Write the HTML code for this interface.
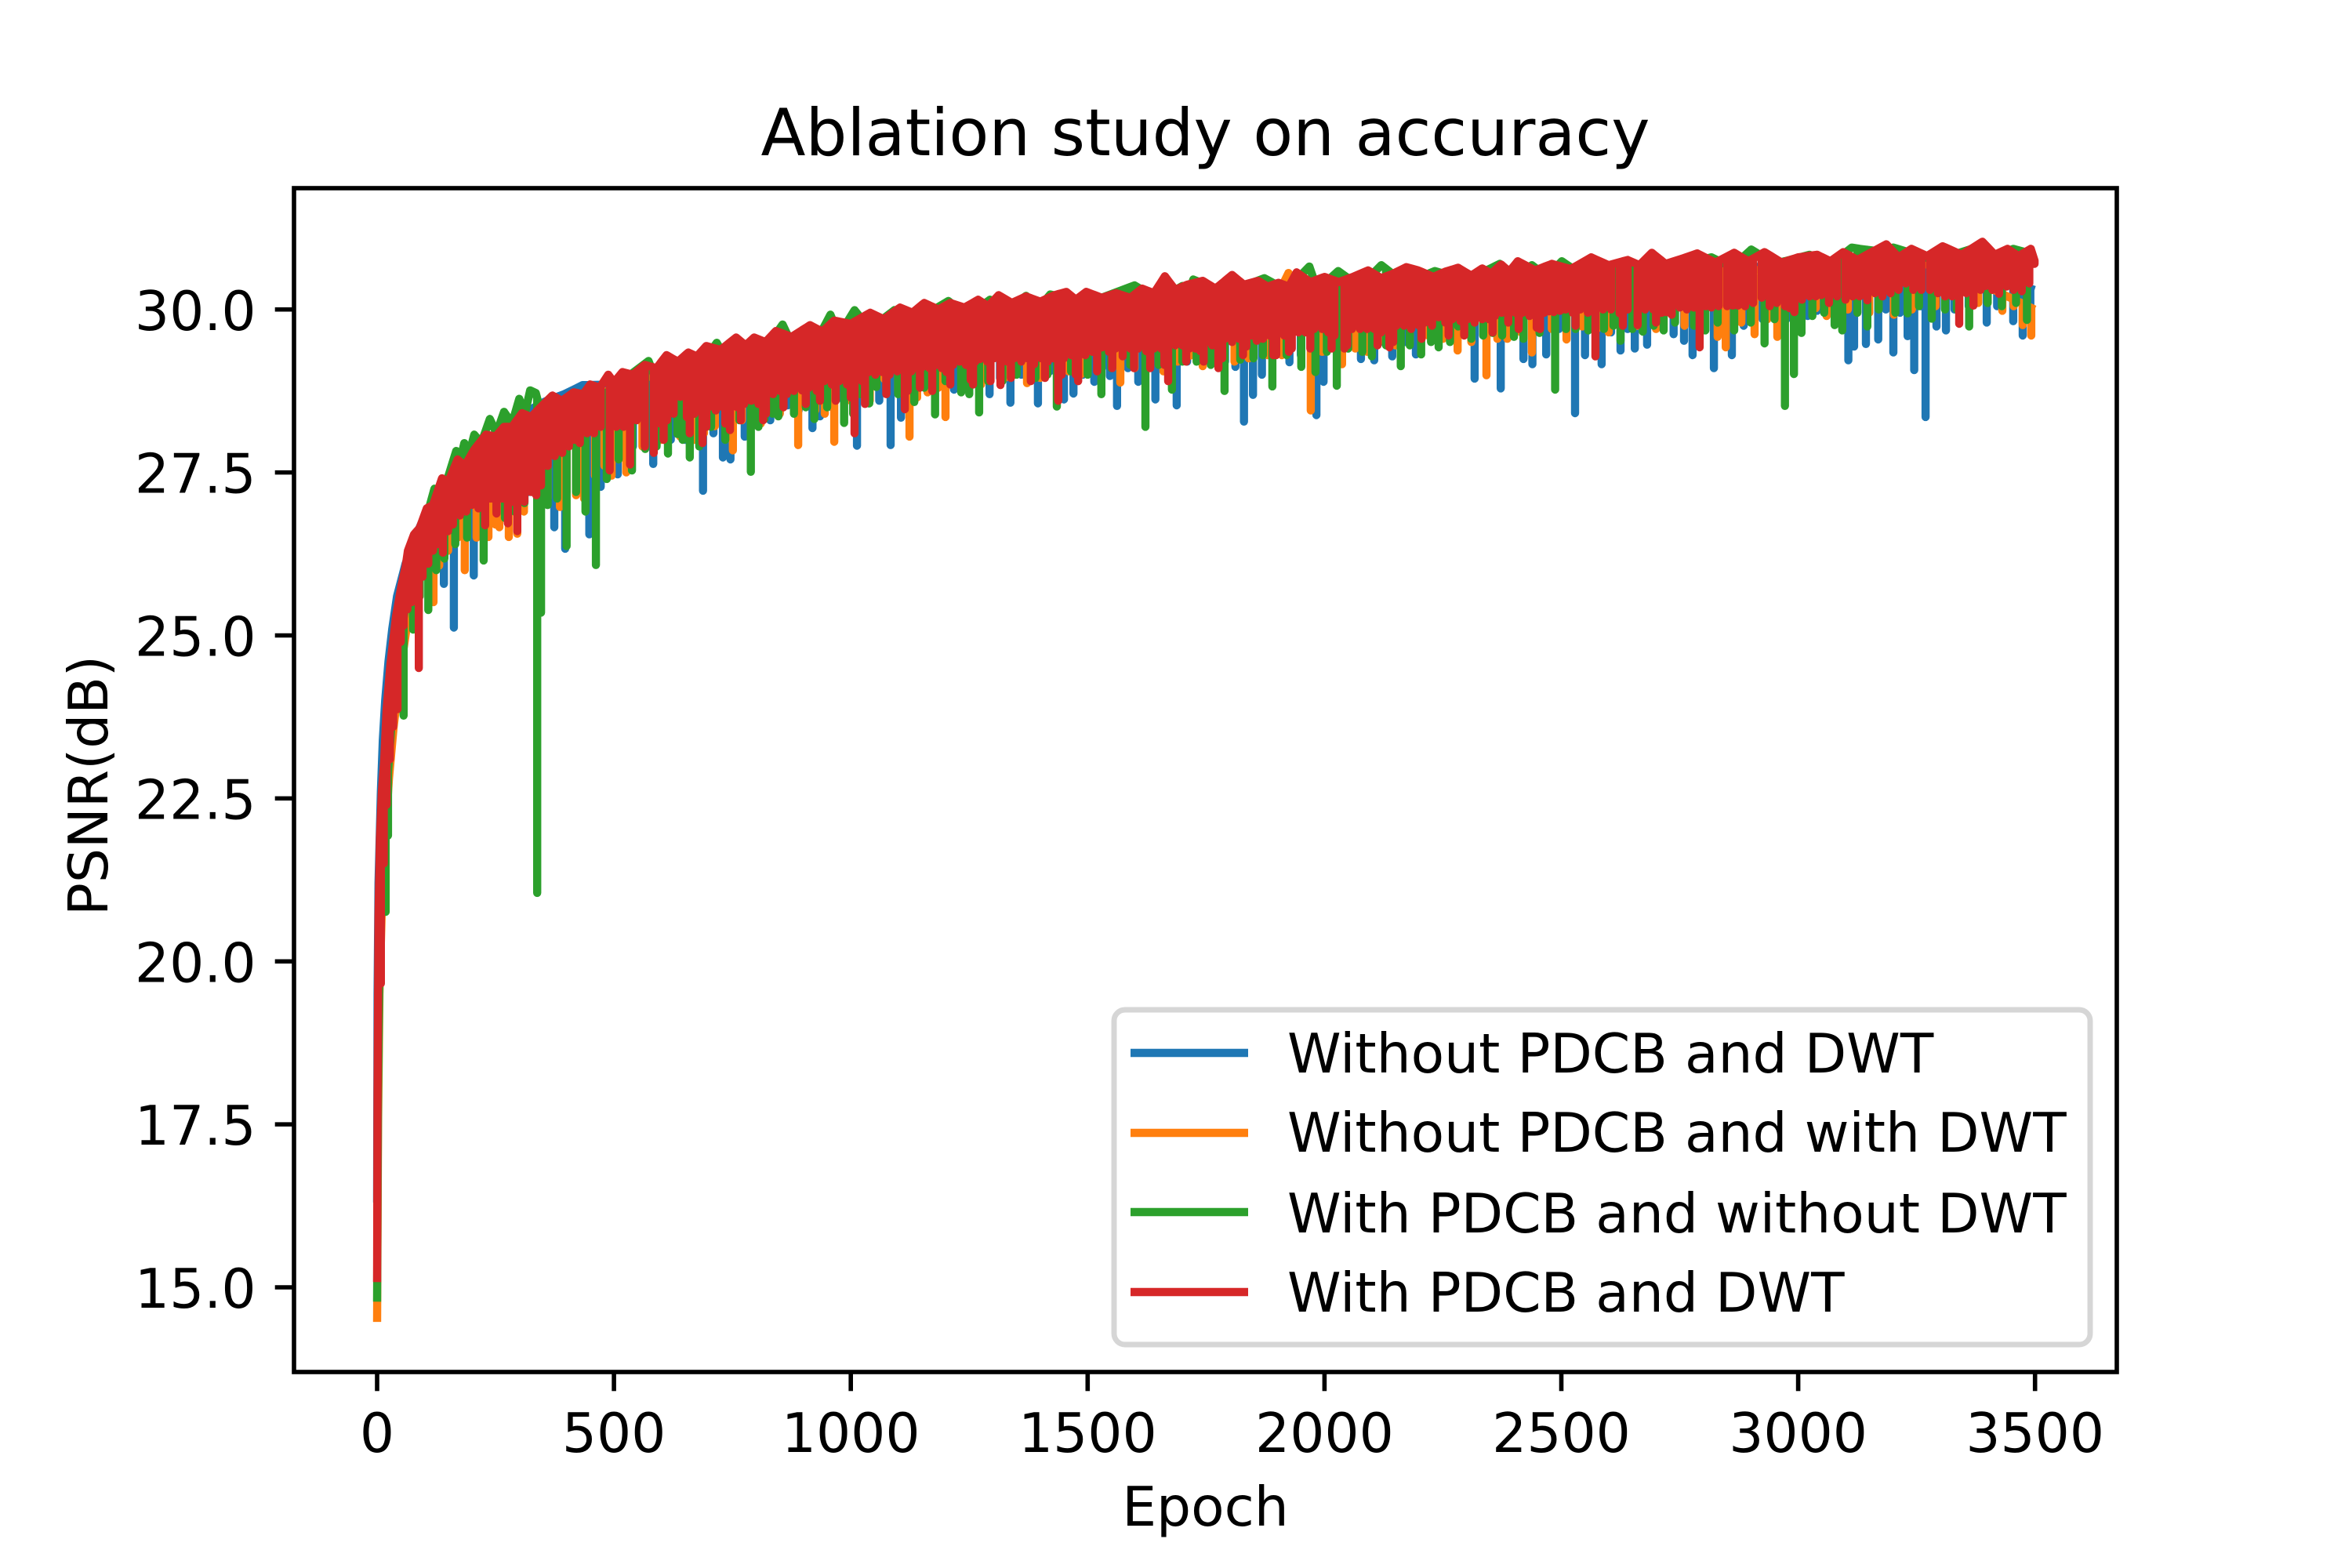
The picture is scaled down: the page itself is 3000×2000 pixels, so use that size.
<!DOCTYPE html>
<html lang="en">
<head>
<meta charset="utf-8">
<title>Ablation study on accuracy</title>
<style>
html,body{margin:0;padding:0;background:#fff;}
svg{display:block;}
text{font-family:"DejaVu Sans","Liberation Sans",sans-serif;fill:#000;}
</style>
</head>
<body>
<svg id="chart" xmlns="http://www.w3.org/2000/svg" width="3000" height="2000" viewBox="0 0 3000 2000">
  <rect x="0" y="0" width="3000" height="2000" fill="#ffffff"/>
  <g id="series-layer"></g>
  <g id="tick-layer"></g>
  <rect x="375" y="240" width="2325" height="1510" fill="none" stroke="#000" stroke-width="5.6"/>
  <text x="1537.5" y="198" font-size="83.33" text-anchor="middle">Ablation study on accuracy</text>
  <text x="1537.5" y="1946" font-size="69.44" text-anchor="middle">Epoch</text>
  <text transform="translate(137,1002) rotate(-90)" font-size="69.44" text-anchor="middle">PSNR(dB)</text>
  <g>
    <rect x="1421" y="1288" width="1245" height="427" rx="14" ry="14" fill="#ffffff" fill-opacity="0.8" stroke="#d6d6d6" stroke-width="6.9"/>
    <g>
      <line x1="1442" x2="1592" y1="1343" y2="1343" stroke="#1f77b4" stroke-width="10.4"/>
      <text x="1642" y="1368" font-size="69.44">Without PDCB and DWT</text>
    </g>
    <g>
      <line x1="1442" x2="1592" y1="1445" y2="1445" stroke="#ff7f0e" stroke-width="10.4"/>
      <text x="1642" y="1469" font-size="69.44">Without PDCB and with DWT</text>
    </g>
    <g>
      <line x1="1442" x2="1592" y1="1546" y2="1546" stroke="#2ca02c" stroke-width="10.4"/>
      <text x="1642" y="1572" font-size="69.44">With PDCB and without DWT</text>
    </g>
    <g>
      <line x1="1442" x2="1592" y1="1648" y2="1648" stroke="#d62728" stroke-width="10.4"/>
      <text x="1642" y="1673" font-size="69.44">With PDCB and DWT</text>
    </g>
  </g>
</svg>
<script>
const xTickValues = [0, 500, 1000, 1500, 2000, 2500, 3000, 3500];
const xTickLabels = ["0", "500", "1000", "1500", "2000", "2500", "3000", "3500"];
const yTickValues = [15, 17.5, 20, 22.5, 25, 27.5, 30];
const yTickLabels = ["15.0", "17.5", "20.0", "22.5", "25.0", "27.5", "30.0"];

const blueCrestEpochs = [0,1,3,8,12,17,24,32,42,60,80,105,140,175,230,300,341,361,395,434,520,700,1000,1300,1700,2100,2500,2900,3300,3499];
const blueCrestPsnr = [16.3,19.5,21.2,22.6,23.4,24.0,24.6,25.1,25.6,26.1,26.5,26.9,27.3,27.65,28.0,28.35,28.54,28.61,28.7,28.84,28.85,29.2,29.7,30.0,30.2,30.4,30.55,30.65,30.75,30.3];
const blueDipEpochs = [141,162,204,374,397,448,472,508,583,688,730,746,776,830,867,919,935,1013,1038,1084,1106,1218,1293,1337,1395,1450,1470,1514,1547,1562,1607,1643,1688,1812,1830,1849,1868,1926,1983,1998,2077,2105,2143,2193,2317,2372,2420,2439,2468,2529,2550,2585,2625,2655,2681,2737,2759,2777,2822,2860,3040,3106,3118,3143,3169,3201,3231,3245,3269,3292,3312,3398,3454,3474,
180,230,260,290,320,420,490,540,620,650,710,800,850,890,960,985,1060,1140,1170,1250,1315,1360,1420,1490,1530,1585,1630,1665,1710,1760,1790,1900,1950,2020,2050,2125,2170,2230,2270,2345,2395,2455,2495,2570,2605,2640,2710,2790,2840,2885,2925,2975,3020,3070,3090,3185,3215,3258,3330,3360,3420,3490];
const blueDipPsnr = [25.79,25.12,25.92,26.66,26.33,26.55,27.28,27.47,27.63,27.22,27.73,27.70,28.05,28.30,28.53,28.18,28.36,27.91,28.56,27.92,28.34,28.77,28.70,28.57,28.56,28.62,28.71,28.89,28.98,28.52,28.89,28.62,28.53,29.12,28.28,28.69,29.00,29.19,28.38,28.89,29.24,29.22,29.28,29.31,28.94,28.79,29.24,29.16,29.31,28.41,29.30,29.16,29.37,29.40,29.46,29.62,29.52,29.30,29.10,29.30,29.98,29.22,29.43,29.47,29.54,29.34,29.59,29.07,28.35,29.74,29.68,29.80,29.82,29.60,
26.6,26.85,26.9,27.1,27.2,27.3,27.7,27.9,28.0,28.0,28.1,28.3,28.4,28.45,28.5,28.6,28.6,28.7,28.8,28.95,28.95,29.0,29.05,29.0,29.1,29.1,29.15,29.1,29.2,29.25,29.2,29.35,29.3,29.4,29.4,29.5,29.5,29.55,29.55,29.65,29.6,29.65,29.7,29.7,29.65,29.7,29.75,29.75,29.8,29.75,29.85,29.85,29.9,29.95,29.9,30.0,29.95,30.05,30.0,30.05,30.05,30.0];

const orangeCrestEpochs = [0,2,5,10,16,25,35,50,70,100,130,165,230,300,400,520,700,1000,1300,1640,1900,1924,1945,2100,2500,2900,3300,3499];
const orangeCrestPsnr = [14.47,17.5,19.5,20.8,21.8,22.8,23.6,24.5,25.5,26.6,27.1,27.5,27.95,28.25,28.5,28.85,29.25,29.75,30.0,30.2,30.2,30.56,30.25,30.35,30.5,30.6,30.7,30.0];
const orangeDipEpochs = [119,131,185,235,258,278,296,386,420,437,495,526,713,751,889,965,1071,1124,1162,1200,1372,1569,1599,1716,1743,1763,1971,2037,2118,2219,2281,2342,2386,2438,2511,2544,2830,2847,2908,2956,3037,3202,3431,3474,3492,
150,170,210,250,310,340,360,400,460,480,560,600,640,670,690,770,810,850,925,945,1000,1040,1100,1140,1185,1240,1275,1325,1345,1400,1460,1485,1525,1625,1660,1690,1780,1810,1840,1880,1910,1995,2065,2090,2150,2180,2250,2310,2365,2415,2480,2575,2600,2660,2700,2760,2800,2880,2935,3000,3060,3105,3150,3240,3290,3340,3380,3455];
const orangeDipPsnr = [25.51,26.07,26.0,26.51,26.66,26.51,26.56,26.97,27.15,27.10,27.45,27.50,28.21,27.84,27.92,27.97,28.93,28.05,28.73,28.35,28.87,28.88,29.10,29.29,29.13,29.36,28.45,29.16,29.52,29.60,29.37,28.99,29.55,29.34,29.54,29.74,29.58,29.42,29.62,29.58,30.02,29.92,29.98,29.76,29.60,
26.3,26.5,26.5,26.7,26.9,27.0,27.1,27.2,27.45,27.6,27.9,28.0,28.05,28.0,28.1,28.3,28.25,28.4,28.45,28.4,28.6,28.6,28.75,28.65,28.8,28.9,28.85,28.95,29.0,28.95,29.05,29.0,29.1,29.1,29.05,29.2,29.25,29.2,29.25,29.3,29.3,29.35,29.4,29.35,29.45,29.5,29.55,29.5,29.55,29.65,29.7,29.7,29.65,29.75,29.7,29.75,29.8,29.8,29.85,29.9,29.9,30.0,29.95,30.0,30.05,30.0,30.1,30.05];

const greenCrestEpochs = [0,2,6,12,20,30,45,60,80,100,121,140,167,176,184,195,205,220,238,252,268,285,300,312,323,335,350,400,480,573,590,680,717,740,820,856,880,930,957,975,1008,1040,1092,1130,1206,1245,1294,1330,1370,1395,1421,1500,1599,1650,1700,1712,1723,1790,1873,1920,1968,1985,2029,2075,2120,2170,2233,2300,2370,2405,2438,2470,2501,2540,2577,2700,2817,2860,2901,2950,3024,3070,3113,3130,3163,3180,3201,3290,3366,3410,3454,3499];
const greenCrestPsnr = [14.78,18,20.5,21.6,22.6,23.6,24.6,25.5,26.2,26.7,27.25,27.2,27.83,27.7,27.95,27.8,28.08,27.95,28.32,28.1,28.43,28.25,28.63,28.4,28.76,28.72,28.3,28.5,28.7,29.21,28.9,29.1,29.49,29.2,29.4,29.77,29.4,29.55,29.92,29.6,29.99,29.7,29.99,29.8,30.13,29.9,30.15,30.0,30.21,30.0,30.23,30.1,30.37,30.15,30.36,30.2,30.46,30.25,30.48,30.3,30.66,30.3,30.59,30.35,30.68,30.4,30.59,30.45,30.7,30.5,30.68,30.5,30.74,30.55,30.65,30.6,30.8,30.65,30.92,30.7,30.84,30.7,30.95,30.93,30.9,30.75,30.95,30.75,30.93,30.8,30.93,30.84];
const greenDipEpochs = [18,23,56,76,108,142,225,252,311,338,346,400,462,538,566,614,634,660,789,818,847,923,986,1039,1054,1134,1178,1233,1271,1435,1529,1622,1678,1789,1822,1890,1951,1981,2026,2100,2161,2204,2241,2282,2355,2400,2454,2487,2557,2625,2672,2716,2804,2865,2929,2972,2991,3007,3077,3093,3146,3231,3282,3361,3483,
36,90,125,165,190,270,290,360,380,420,440,485,510,590,645,680,705,735,765,805,835,880,905,950,1005,1020,1075,1100,1155,1200,1250,1290,1320,1350,1390,1415,1465,1500,1550,1590,1650,1700,1730,1760,1850,1870,1920,2005,2050,2080,2130,2180,2225,2265,2310,2335,2375,2420,2510,2530,2590,2610,2650,2695,2740,2780,2830,2900,2950,3030,3055,3125,3170,3205,3255,3310,3335,3400,3430,3460];
const greenDipPsnr = [20.76,21.93,23.77,25.09,25.39,26.18,26.15,26.90,27.03,21.05,25.35,26.37,26.08,27.53,27.86,27.79,28.09,27.73,27.51,28.32,28.36,28.32,28.26,28.56,28.81,28.58,28.39,28.73,28.42,28.51,28.70,28.20,28.77,28.75,29.23,28.82,29.12,29.04,28.83,29.28,29.13,29.31,29.42,29.74,29.64,29.58,29.64,28.77,29.68,29.52,29.66,29.68,29.68,29.68,29.48,28.52,29.01,29.64,29.76,29.68,29.74,29.94,29.86,29.74,29.84,
23.9,25.6,26.0,26.4,26.5,26.8,26.9,27.0,27.1,27.2,26.9,27.4,27.7,27.9,28.0,27.9,28.2,28.0,28.3,28.2,28.4,28.4,28.5,28.5,28.4,28.7,28.8,28.7,28.8,28.9,28.7,28.9,28.9,29.0,28.95,29.0,29.05,29.0,29.1,29.15,29.15,29.2,29.2,29.15,29.25,29.3,29.3,29.35,29.4,29.35,29.45,29.45,29.5,29.5,29.55,29.6,29.6,29.55,29.7,29.7,29.7,29.75,29.7,29.75,29.8,29.75,29.8,29.8,29.85,29.9,29.95,29.95,30.0,29.95,30.05,30.0,30.0,30.1,30.05,30.1];

const redCrestEpochs = [0,1,3,6,10,15,20,28,40,51,60,65,78,90,105,118,137,150,170,185,205,230,250,268,285,306,325,345,370,390,415,435,450,470,488,500,518,540,565,590,611,635,657,675,695,725,758,778,796,820,842,875,914,940,965,1000,1041,1070,1104,1130,1155,1185,1210,1240,1269,1290,1312,1340,1370,1400,1430,1455,1475,1497,1530,1560,1590,1615,1640,1663,1685,1710,1743,1770,1805,1830,1860,1880,1903,1925,1941,1970,2000,2030,2060,2092,2120,2145,2173,2198,2230,2255,2282,2310,2333,2352,2373,2390,2408,2445,2480,2520,2563,2600,2640,2665,2691,2720,2755,2787,2825,2865,2895,2929,2965,3000,3040,3068,3095,3125,3150,3186,3212,3239,3272,3305,3345,3389,3415,3442,3465,3491,3499];
const redCrestPsnr = [15.08,18,20.7,21.9,22.6,23.1,23.87,24.55,25.3,25.75,26.05,26.3,26.55,26.65,26.95,27.0,27.41,27.35,27.7,27.6,27.85,28.08,28.05,28.2,28.2,28.41,28.35,28.5,28.68,28.6,28.73,28.7,28.85,28.8,29.0,28.88,29.04,29.0,29.15,29.1,29.3,29.2,29.34,29.28,29.44,29.38,29.57,29.45,29.57,29.5,29.67,29.58,29.76,29.66,29.83,29.78,29.95,29.85,30.03,29.95,30.1,30.0,30.1,30.03,30.15,30.05,30.22,30.1,30.2,30.12,30.22,30.27,30.15,30.27,30.18,30.25,30.18,30.32,30.25,30.51,30.3,30.38,30.44,30.32,30.53,30.38,30.44,30.35,30.41,30.35,30.57,30.42,30.5,30.42,30.5,30.6,30.48,30.55,30.65,30.6,30.5,30.58,30.64,30.52,30.63,30.55,30.69,30.58,30.74,30.6,30.7,30.62,30.8,30.68,30.76,30.68,30.87,30.7,30.78,30.86,30.72,30.87,30.74,30.88,30.72,30.8,30.84,30.74,30.88,30.76,30.86,31.0,30.8,30.93,30.82,30.97,30.84,31.04,30.84,30.93,30.82,30.93,30.75];
const redDipEpochs = [8,14,20,27,34,43,50,56,64,73,80,88,96,108,118,128,139,150,160,175,188,200,214,228,240,252,264,276,286,296,311,325,336,346,360,375,391,405,417,428,443,458,472,491,505,520,534,548,562,584,598,612,626,640,654,670,687,700,715,730,745,760,775,790,805,821,836,850,865,880,897,912,928,944,960,976,992,1008,1024,1038,1052,1066,1082,1098,1114,1128,1140,1152,1166,1180,1192,1202,1216,1230,1243,1253,1263,1273,1288,1302,1316,1330,1345,1360,1373,1387,1402,1416,1428,1438,1450,1465,1480,1495,1510,1531,1545,1559,1574,1590,1607,1624,1640,1655,1670,1685,1700,1715,1727,1738,1750,1763,1776,1790,1805,1820,1835,1847,1857,1870,1884,1898,1915,1931,1945,1960,1978,1995,2008,2021,2042,2058,2075,2090,2105,2120,2137,2152,2168,2183,2198,2212,2227,2241,2255,2270,2287,2302,2317,2333,2347,2360,2374,2388,2403,2418,2433,2448,2464,2474,2484,2497,2509,2524,2540,2556,2572,2588,2605,2623,2640,2661,2677,2694,2712,2722,2733,2750,2765,2780,2792,2805,2817,2832,2850,2862,2873,2888,2905,2923,2940,2955,2972,2982,2992,3008,3024,3037,3049,3065,3082,3100,3115,3130,3146,3162,3178,3195,3212,3227,3243,3260,3278,3295,3310,3325,3340,3355,3370,3385,3396,3410,3424,3440,3455,3472,3488,3499,
565,605,660,695,735,768,815,858,905,935,968,1000,1030,1075,1120,1146,1172,1210,1258,1295,1338,1380,1410,1445,1475,1520,1552,1598,1632,1662,1708,1745,1784,1828,1892,1925,1970,2015,2048,2112,2145,2205,2262,2295,2355,2410,2455,2530,2630,2700];
const redDipPsnr = [19.66,21.5,22.4,23.1,23.6,23.87,24.9,25.15,25.4,25.51,25.7,24.5,25.9,26.1,26.3,26.4,26.27,26.6,26.7,26.84,26.9,27.0,26.95,26.69,27.1,26.87,27.1,26.72,27.05,26.6,27.05,27.2,27.15,27.3,27.6,27.75,27.8,27.9,28.0,27.95,28.1,28.1,28.2,27.53,28.2,28.2,27.62,28.3,28.35,27.8,28.25,28.3,28.4,28.66,28.35,28.4,27.95,28.5,28.45,28.5,28.15,28.5,28.55,28.6,28.55,28.4,28.7,28.75,28.7,28.75,28.76,28.8,28.75,28.9,28.85,28.9,28.85,28.1,28.9,29.04,29.0,29.04,29.0,29.05,28.47,29.05,29.1,29.12,29.1,29.15,29.1,29.04,29.15,29.2,29.15,28.92,29.2,29.24,29.2,29.25,28.84,29.2,29.25,29.2,29.25,29.16,29.25,29.2,29.25,28.6,29.25,29.3,28.9,29.3,29.35,29.42,29.35,29.4,29.28,29.4,29.4,29.36,29.4,29.4,28.9,29.45,29.45,29.4,29.4,29.36,29.5,29.45,29.1,29.55,29.5,29.55,29.43,29.6,29.52,29.55,29.6,29.3,29.6,29.4,29.65,29.65,29.7,29.7,29.65,29.6,29.4,29.7,29.7,29.7,29.7,29.65,29.42,29.75,29.75,29.7,29.76,29.8,29.75,29.88,29.8,29.85,29.82,29.85,29.8,29.85,29.85,29.9,29.95,29.8,29.95,29.95,29.9,29.72,29.95,29.97,29.96,29.98,30.0,29.95,30.0,29.95,29.28,30.0,30.0,29.94,30.0,29.76,30.0,30.0,29.95,29.96,29.92,30.03,30.0,30.03,29.42,30.05,30.03,30.05,30.05,30.06,30.06,30.05,30.1,30.18,30.05,30.1,30.05,30.02,29.96,30.15,30.2,30.2,30.22,30.1,30.2,30.15,30.2,30.2,30.14,30.25,30.2,30.25,30.3,30.4,30.3,30.3,30.3,30.25,30.2,30.2,29.78,30.25,30.06,30.3,30.36,30.3,30.24,30.35,30.3,30.28,30.4,30.7,
27.9,28.0,28.1,28.2,28.25,28.3,28.3,28.5,28.55,28.6,28.6,28.65,28.55,28.7,28.75,28.8,28.75,28.85,28.85,28.9,28.95,28.9,28.95,29.0,29.0,29.05,29.1,29.1,29.1,29.15,29.2,29.2,29.25,29.3,29.3,29.35,29.4,29.4,29.45,29.45,29.5,29.55,29.6,29.6,29.65,29.7,29.7,29.75,29.75,29.8];

function xAxis(epoch) { return 481 + epoch * 0.6042; }
function yAxis(psnr) { return 1642 - (psnr - 15) * 83.15; }

function crestAt(epochs, values, e) {
  if (e <= epochs[0]) return values[0];
  for (let i = 1; i < epochs.length; i++) {
    if (e <= epochs[i]) {
      const t = (e - epochs[i - 1]) / (epochs[i] - epochs[i - 1]);
      return values[i - 1] + t * (values[i] - values[i - 1]);
    }
  }
  return values[values.length - 1];
}

function buildPath(crestEpochs, crestPsnr, dipEpochs, dipPsnr) {
  const events = [];
  crestEpochs.forEach(function (e, i) { events.push({ e: e, v: crestPsnr[i], dip: false }); });
  dipEpochs.forEach(function (e, i) { events.push({ e: e, v: dipPsnr[i], dip: true }); });
  events.sort(function (a, b) { return a.e - b.e; });
  const parts = [];
  events.forEach(function (ev) {
    const x = xAxis(ev.e).toFixed(1);
    if (ev.dip) {
      const top = yAxis(crestAt(crestEpochs, crestPsnr, ev.e)).toFixed(1);
      parts.push(x + ' ' + top, x + ' ' + yAxis(ev.v).toFixed(1), x + ' ' + top);
    } else {
      parts.push(x + ' ' + yAxis(ev.v).toFixed(1));
    }
  });
  return 'M' + parts.join('L');
}

const SVGNS = 'http://www.w3.org/2000/svg';
const seriesLayer = document.getElementById('series-layer');
const tickLayer = document.getElementById('tick-layer');

function addSeries(name, color, crestEpochs, crestPsnr, dipEpochs, dipPsnr) {
  const p = document.createElementNS(SVGNS, 'path');
  
  
  p.setAttribute('d', buildPath(crestEpochs, crestPsnr, dipEpochs, dipPsnr));
  p.setAttribute('fill', 'none');
  p.setAttribute('stroke', color);
  p.setAttribute('stroke-width', '10.4');
  p.setAttribute('stroke-linejoin', 'round');
  p.setAttribute('stroke-linecap', 'butt');
  seriesLayer.appendChild(p);
}
addSeries('series-without-pdcb-and-dwt', '#1f77b4', blueCrestEpochs, blueCrestPsnr, blueDipEpochs, blueDipPsnr);
addSeries('series-without-pdcb-with-dwt', '#ff7f0e', orangeCrestEpochs, orangeCrestPsnr, orangeDipEpochs, orangeDipPsnr);
addSeries('series-with-pdcb-without-dwt', '#2ca02c', greenCrestEpochs, greenCrestPsnr, greenDipEpochs, greenDipPsnr);
addSeries('series-with-pdcb-and-dwt', '#d62728', redCrestEpochs, redCrestPsnr, redDipEpochs, redDipPsnr);

xTickValues.forEach(function (v, i) {
  const x = xAxis(v);
  const t = document.createElementNS(SVGNS, 'line');
  
  
  t.setAttribute('x1', x);
  t.setAttribute('x2', x);
  t.setAttribute('y1', 1750);
  t.setAttribute('y2', 1774.3);
  t.setAttribute('stroke', '#000');
  t.setAttribute('stroke-width', '5.6');
  tickLayer.appendChild(t);
  const l = document.createElementNS(SVGNS, 'text');
  
  
  l.setAttribute('x', x);
  l.setAttribute('y', 1852);
  l.setAttribute('font-size', '69.44');
  l.setAttribute('text-anchor', 'middle');
  l.textContent = xTickLabels[i];
  tickLayer.appendChild(l);
});

yTickValues.forEach(function (v, i) {
  const y = yAxis(v);
  const t = document.createElementNS(SVGNS, 'line');
  
  
  t.setAttribute('x1', 350.7);
  t.setAttribute('x2', 375);
  t.setAttribute('y1', y);
  t.setAttribute('y2', y);
  t.setAttribute('stroke', '#000');
  t.setAttribute('stroke-width', '5.6');
  tickLayer.appendChild(t);
  const l = document.createElementNS(SVGNS, 'text');
  
  
  l.setAttribute('x', 326.5);
  l.setAttribute('y', y + 26);
  l.setAttribute('font-size', '69.44');
  l.setAttribute('text-anchor', 'end');
  l.textContent = yTickLabels[i];
  tickLayer.appendChild(l);
});
</script>
</body>
</html>
